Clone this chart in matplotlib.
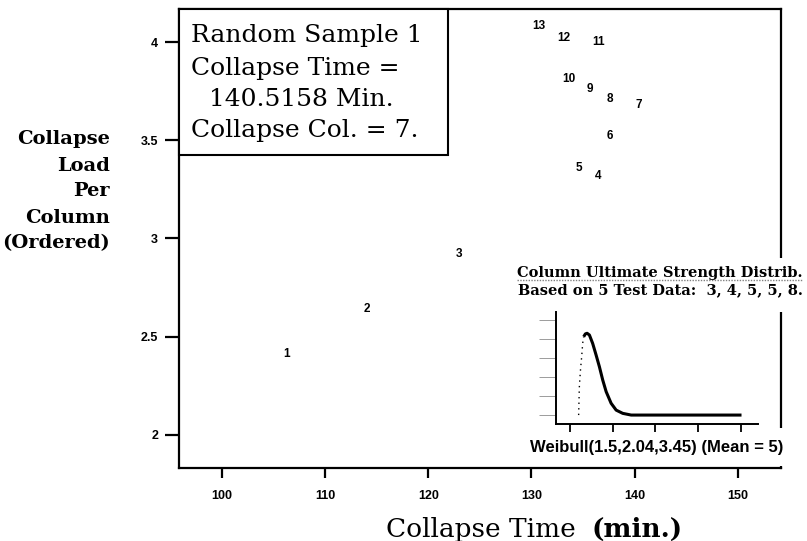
import matplotlib
matplotlib.use("Agg")
import matplotlib.pyplot as plt
from matplotlib.patches import Rectangle

# ---------------- data ----------------
col_labels = ["1", "2", "3", "4", "5", "6", "7", "8", "9", "10", "11", "12", "13"]
collapse_time = [106.3, 114.0, 123.0, 136.5, 134.6, 137.6, 140.4, 137.6, 135.7, 133.6, 136.5, 133.1, 130.7]
collapse_load = [2.41, 2.64, 2.92, 3.32, 3.36, 3.52, 3.68, 3.71, 3.76, 3.81, 4.00, 4.02, 4.08]

x_ticks = [100, 110, 120, 130, 140, 150]
y_ticks = [2, 2.5, 3, 3.5, 4]
y_ticklabels = ["2", "2.5", "3", "3.5", "4"]

# inset: Weibull density curve
pdf_rise_x = [1.01, 1.09, 1.17, 1.24, 1.33, 1.41, 1.48, 1.60]
pdf_rise_y = [0.0, 0.146, 0.202, 0.246, 0.289, 0.333, 0.377, 0.412]
pdf_fall_x = [1.60, 1.80, 2.0, 2.27, 2.65, 3.05, 3.44, 3.83, 4.23, 4.81, 5.40, 6.17, 7.16, 10.0, 15.0, 20.07]
pdf_fall_y = [0.412, 0.427, 0.430, 0.421, 0.377, 0.316, 0.254, 0.184, 0.123, 0.062, 0.026, 0.009, 0.0, 0.0, 0.0, 0.0]
inset_xticks = [0, 5, 10, 15, 20]
inset_yticks = [0, 0.1, 0.2, 0.3, 0.4, 0.5]

box_lines = ["Random Sample 1", "Collapse Time =", "140.5158 Min.", "Collapse Col. = 7."]
ylabel_lines = ["Collapse", "Load", "Per", "Column", "(Ordered)"]

W, H = 807, 541
fig = plt.figure(figsize=(W / 100, H / 100), dpi=100)
fig.patch.set_facecolor("white")


def fx(px):
    return px / W


def fy(py):
    return 1 - py / H


# ---------------- main axes ----------------
ax = fig.add_axes([fx(179), fy(468), fx(781) - fx(179), fy(9) - fy(468)])
ax.set_xlim(95.83, 154.2)
ax.set_ylim(1.832, 4.168)
for s in ax.spines.values():
    s.set_linewidth(1.6)
    s.set_color("black")

ax.set_xticks(x_ticks)
ax.set_xticklabels([str(t) for t in x_ticks])
ax.set_yticks(y_ticks)
ax.set_yticklabels(y_ticklabels)
ax.tick_params(axis="x", direction="out", length=7.5, width=1.6, pad=8)
ax.tick_params(axis="y", direction="out", length=10, width=1.6, pad=5)
for lab in ax.get_xticklabels() + ax.get_yticklabels():
    lab.set_fontfamily("Liberation Sans")
    lab.set_fontweight("bold")
    lab.set_fontsize(9)

for lbl, xv, yv in zip(col_labels, collapse_time, collapse_load):
    ax.text(xv, yv, lbl, ha="center", va="center", fontsize=8.5,
            family="Liberation Sans", fontweight="bold")

# white masks over the right spine where the inset captions sit
fig.patches.append(Rectangle((fx(772), fy(312)), fx(18), fy(258) - fy(312),
                             transform=fig.transFigure, facecolor="white",
                             edgecolor="none", zorder=1))
fig.patches.append(Rectangle((fx(772), fy(466)), fx(18), fy(428) - fy(466),
                             transform=fig.transFigure, facecolor="white",
                             edgecolor="none", zorder=1))

# ---------------- text box ----------------
fig.patches.append(Rectangle((fx(179), fy(155)), fx(448) - fx(179), fy(9) - fy(155),
                             transform=fig.transFigure, facecolor="white",
                             edgecolor="black", linewidth=1.5, zorder=2))
box_x = [191, 191, 209, 191]
box_base = [42, 75, 106, 137]
for t, bx, by in zip(box_lines, box_x, box_base):
    fig.text(fx(bx), fy(by), t, ha="left", va="baseline", fontsize=18,
             family="DejaVu Serif", zorder=3)

# ---------------- y label ----------------
yl_centers = [138, 165, 190, 217, 242]
for t, cy in zip(ylabel_lines, yl_centers):
    fig.text(fx(110), fy(cy + 6), t, ha="right", va="baseline", fontsize=14,
             family="DejaVu Serif", fontweight="bold")

# ---------------- x label ----------------
fig.text(fx(386), fy(537), "Collapse Time", ha="left", va="baseline",
         fontsize=19, family="DejaVu Serif")
fig.text(fx(592), fy(537), "(min.)", ha="left", va="baseline",
         fontsize=19, family="DejaVu Serif", fontweight="bold")

# ---------------- inset ----------------
iax = fig.add_axes([fx(556), fy(424), fx(758) - fx(556), fy(312) - fy(424)])
iax.set_xlim(-1.64, 22.0)
iax.set_ylim(-0.047, 0.542)
iax.spines["top"].set_visible(False)
iax.spines["right"].set_visible(False)
iax.spines["left"].set_linewidth(1.4)
iax.spines["bottom"].set_linewidth(1.4)
iax.set_xticks(inset_xticks)
iax.set_yticks(inset_yticks)
iax.set_xticklabels([])
iax.set_yticklabels([])
iax.tick_params(axis="x", direction="out", length=6, width=1.3)
iax.tick_params(axis="y", direction="out", length=12, width=0.6, color="0.55")
iax.patch.set_alpha(0)
iax.plot(pdf_rise_x, pdf_rise_y, color="black", lw=1.0, ls=(0, (1, 3)))
iax.plot(pdf_fall_x, pdf_fall_y, color="black", lw=2.2, solid_capstyle="butt")

fig.text(fx(517), fy(277), "Column Ultimate Strength Distrib.", ha="left",
         va="baseline", fontsize=10.5, family="DejaVu Serif", fontweight="bold", zorder=3)
fig.text(fx(518), fy(294), "Based on 5 Test Data:  3, 4, 5, 5, 8.", ha="left",
         va="baseline", fontsize=10.5, family="DejaVu Serif", fontweight="bold", zorder=3)
fig.lines.append(plt.Line2D([fx(517), fx(802)], [fy(280), fy(280)],
                            transform=fig.transFigure, color="0.5", lw=1.0,
                            ls=(0, (1, 1)), zorder=3))
fig.text(fx(530), fy(452), "Weibull(1.5,2.04,3.45) (Mean = 5)", ha="left",
         va="baseline", fontsize=12, family="Liberation Sans",
         fontweight="bold", zorder=3)

fig.savefig("out.png", dpi=100)
